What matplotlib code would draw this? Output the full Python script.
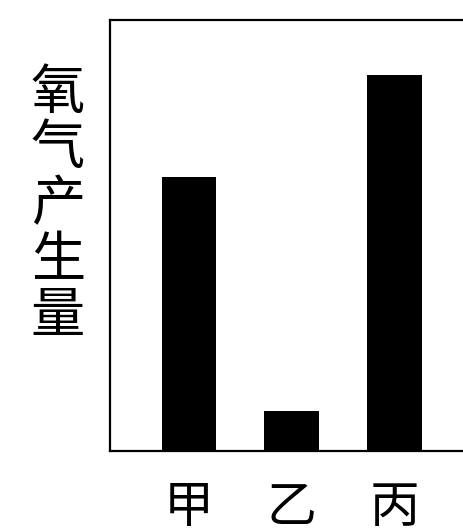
import matplotlib
matplotlib.use("Agg")
import matplotlib.pyplot as plt

plt.rcParams['font.family'] = ['Noto Sans CJK SC', 'DejaVu Sans']

groups = ['甲', '乙', '丙']
oxygen = [6.36, 0.93, 8.72]   # relative oxygen output
ylabel_chars = ['氧', '气', '产', '生', '量']

fig = plt.figure(figsize=(4.63, 5.32), dpi=100)
ax = fig.add_axes([0.2376, 0.1523, 0.799, 0.810])

ax.bar(range(len(groups)), oxygen, width=0.534, color='black')
ax.set_xlim(-0.767, 2.825)
ax.set_ylim(0, 10)

ax.set_xticks(range(len(groups)))
ax.set_xticklabels(groups, fontsize=36)
ax.tick_params(axis='x', length=0, pad=22)
ax.set_yticks([])
for s in ax.spines.values():
    s.set_linewidth(1.6)
ax.spines['right'].set_visible(False)

fig.text(0.125, 0.615, '\n'.join(ylabel_chars), fontsize=39,
         ha='center', va='center', linespacing=1.02)

fig.savefig('out.png', dpi=100)
